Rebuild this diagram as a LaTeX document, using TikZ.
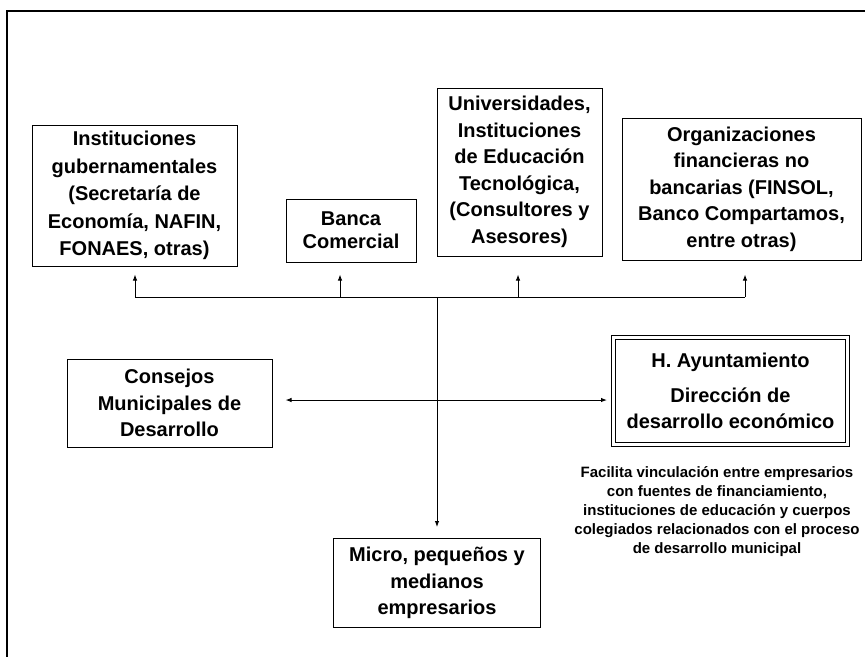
\documentclass[tikz,border=0pt]{standalone}
\usepackage{fontspec}
\setmainfont{Liberation Sans}
\usetikzlibrary{arrows.meta,positioning,calc}

\begin{document}
\begin{tikzpicture}[
    x=1pt, y=-1pt,
    font=\bfseries\fontsize{20}{26.5}\selectfont,
    >={Latex[length=6pt, width=4.5pt]},
    box/.style={rectangle, draw, line width=1pt, align=center, inner sep=0pt},
    office/.style={box, double, double distance=2.5pt},
    link/.style={line width=1pt},
    note/.style={align=center, inner sep=5pt, font=\bfseries\fontsize{15}{19}\selectfont}
]
    \useasboundingbox (0,0) rectangle (865,657);
    \draw[line width=1.2pt] (865,11) -| (7,657);

    % row of sources
    \node[box, minimum width=205pt, minimum height=141pt, font=\bfseries\fontsize{20}{27.5}\selectfont] (inst) at (134.5,195.5)
        {Instituciones\\ gubernamentales\\ (Secretaría de\\ Economía, NAFIN,\\ FONAES, otras)};
    \node[box, minimum width=130pt, minimum height=63pt, font=\bfseries\fontsize{20}{23}\selectfont] (banca) at (351,230.5)
        {Banca\\ Comercial};
    \node[box, minimum width=165pt, minimum height=168pt] (univ) at (519.5,172)
        {Universidades,\\ Instituciones\\ de Educación\\ Tecnológica,\\ (Consultores y\\ Asesores)};
    \node[box, minimum width=239pt, minimum height=142pt] (org) at (741.5,189)
        {Organizaciones\\ financieras no\\ bancarias (FINSOL,\\ Banco Compartamos,\\ entre otras)};

    \coordinate (hub) at (437,297);
    \coordinate (cross) at (437,400);

    % middle row
    \node[box, minimum width=205pt, minimum height=88pt] (consejos) at (169.5,403)
        {Consejos\\ Municipales de\\ Desarrollo};
    \node[office, minimum width=234pt, minimum height=107pt] (hayunt) at (730.5,391)
        {H. Ayuntamiento\\[8pt] Dirección de\\ desarrollo económico};
    \node[note, below=16pt of hayunt, xshift=-13.5pt] (role)
        {Facilita vinculación entre empresarios\\ con fuentes de financiamiento,\\ instituciones de educación y cuerpos\\ colegiados relacionados con el proceso\\ de desarrollo municipal};

    % bottom
    \node[box, minimum width=207pt, minimum height=89pt, below=241pt of hub] (micro)
        {Micro, pequeños y\\ medianos\\ empresarios};

    % connectors
    \foreach \n/\x/\g in {inst/135/8pt, banca/340/12pt, univ/518/18pt, org/745/14pt} {
        \coordinate (tap-\n) at (\x,297);
        \draw[link, ->, shorten >=\g] (tap-\n) -- (tap-\n |- \n.south);
    }
    \draw[link] (tap-inst) -- (tap-org);
    \draw[link, ->, shorten >=11pt] (hub) -- (hub |- micro.north);
    \draw[link, <->, shorten <=13pt, shorten >=6pt] (cross -| consejos.east) -- (cross -| hayunt.west);

\end{tikzpicture}
\end{document}
